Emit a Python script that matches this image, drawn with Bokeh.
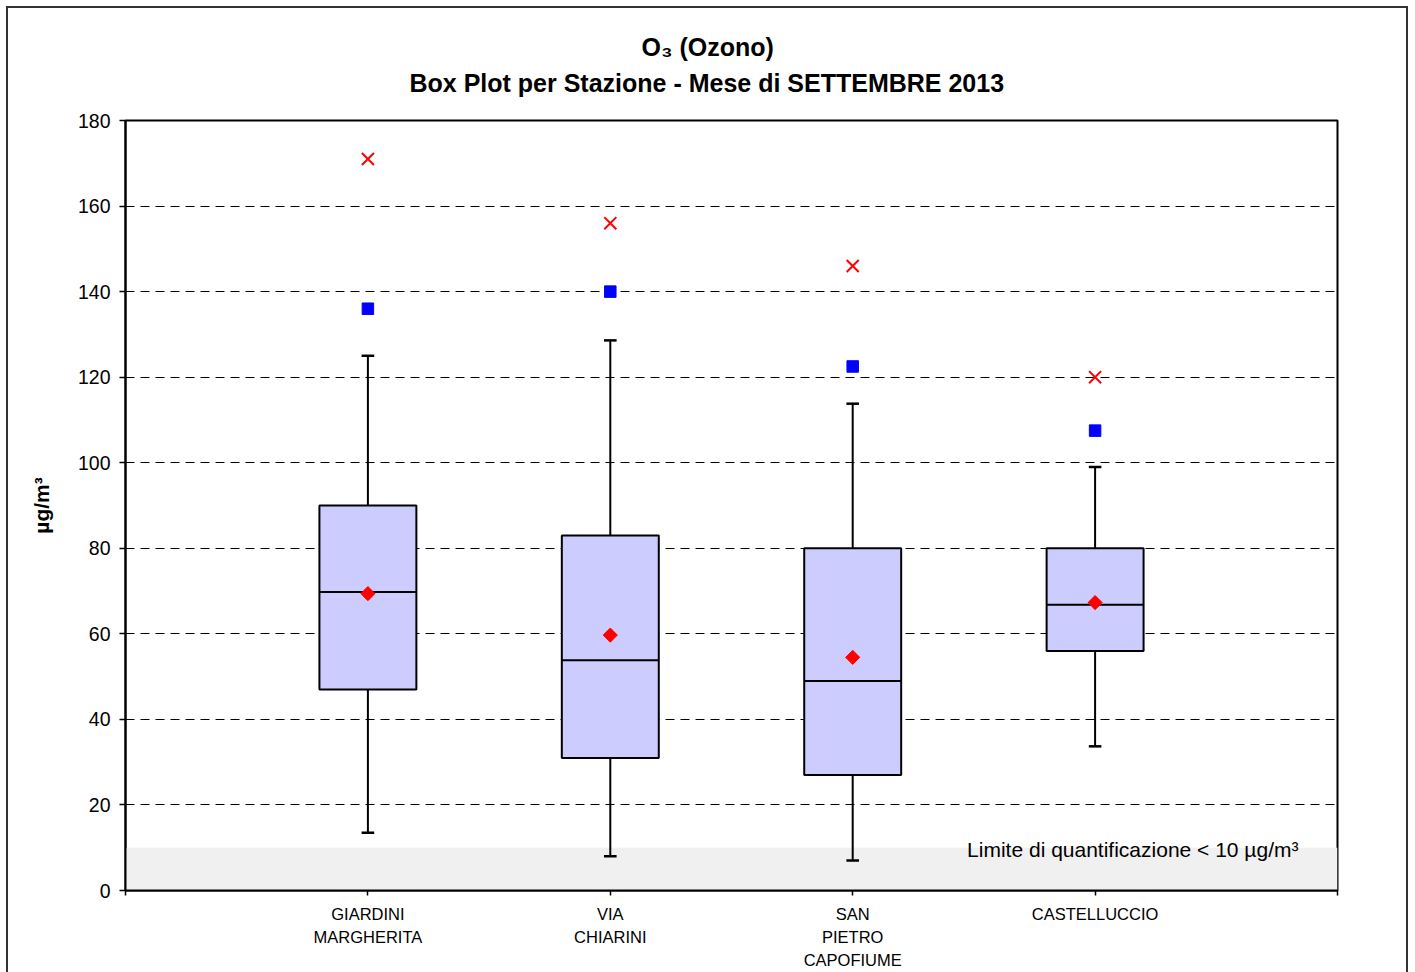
from bokeh.plotting import figure
from bokeh.models import Range1d, FixedTicker, Label, ColumnDataSource, Title
from bokeh.embed import file_html
from bokeh.resources import INLINE

# ---------------- data ----------------
stations = ["GIARDINI\nMARGHERITA", "VIA\nCHIARINI", "SAN\nPIETRO\nCAPOFIUME", "CASTELLUCCIO"]
positions = [1, 2, 3, 4]
whisker_low = [13.5, 8.0, 7.0, 33.7]
q1 = [47.0, 31.0, 27.0, 56.0]
median = [69.8, 53.8, 49.0, 66.8]
q3 = [90.0, 83.0, 80.0, 80.0]
whisker_high = [125.0, 128.6, 113.8, 99.0]
mean = [69.4, 59.7, 54.5, 67.3]
percentile = [136.0, 140.0, 122.5, 107.5]
maximum = [171.0, 156.0, 146.0, 120.0]
loq = 10
y_ticks = [0, 20, 40, 60, 80, 100, 120, 140, 160, 180]
x_ticks = [0, 1, 2, 3, 4, 5]

FONT = "Liberation Sans"
BOX_W = 0.4
CAP = 0.026

src = ColumnDataSource(dict(
    x=positions, lo=whisker_low, q1=q1, med=median, q3=q3, hi=whisker_high,
    mean=mean, pct=percentile, mx=maximum,
    xl=[v - BOX_W / 2 for v in positions], xr=[v + BOX_W / 2 for v in positions],
    cl=[v - CAP for v in positions], cr=[v + CAP for v in positions],
))

p = figure(width=1398, height=964, x_range=Range1d(0, 5), y_range=Range1d(0, 180),
           output_backend="svg", toolbar_location=None,
           min_border_left=117, min_border_right=69, min_border_top=112, min_border_bottom=82)
p.styles = {"margin-left": "8px", "margin-top": "8px", "outline": "2px solid #333"}
p.background_fill_color = "white"
p.border_fill_color = "white"
p.outline_line_color = "black"
p.outline_line_width = 2

# titles (added inner-first)
p.add_layout(Title(text="Box Plot per Stazione - Mese di SETTEMBRE 2013", align="left",
                   offset=284, text_font=FONT, text_font_size="25px", text_font_style="bold",
                   text_color="black", standoff=47), "above")
p.add_layout(Title(text="O₃ (Ozono)", align="left", offset=516, text_font=FONT,
                   text_font_size="25px", text_font_style="bold", text_color="black",
                   standoff=-35), "above")

# band below quantification limit
p.quad(left=[0], right=[5], bottom=[0], top=[loq], fill_color="#f0f0f0", line_color=None, level="underlay")

# grid
p.xgrid.visible = False
p.ygrid.ticker = FixedTicker(ticks=y_ticks[1:-1])
p.ygrid.grid_line_color = "black"
p.ygrid.grid_line_width = 1
p.ygrid.grid_line_dash = "9 6"

# y axis
p.yaxis.ticker = FixedTicker(ticks=y_ticks)
p.yaxis.major_tick_out = 6
p.yaxis.major_tick_in = 0
p.yaxis.minor_tick_out = 0
p.yaxis.minor_tick_in = 0
p.yaxis.axis_line_width = 2
p.yaxis.axis_line_color = "black"
p.yaxis.major_tick_line_color = "black"
p.yaxis.major_tick_line_width = 1.5
p.yaxis.major_label_text_font = FONT
p.yaxis.major_label_text_font_size = "19.5px"
p.yaxis.major_label_text_color = "black"
p.yaxis.major_label_standoff = 9
p.yaxis.axis_label = "µg/m³"
p.yaxis.axis_label_text_font = FONT
p.yaxis.axis_label_text_font_size = "21px"
p.yaxis.axis_label_text_font_style = "bold"
p.yaxis.axis_label_text_color = "black"
p.yaxis.axis_label_standoff = 22

# x axis with station names
p.xaxis.ticker = FixedTicker(ticks=x_ticks)
overrides = {t: "" for t in x_ticks}
for xpos, name in zip(positions, stations):
    overrides[xpos] = name
p.xaxis.major_label_overrides = overrides
p.xaxis.major_tick_out = 5
p.xaxis.major_tick_in = 0
p.xaxis.minor_tick_out = 0
p.xaxis.minor_tick_in = 0
p.xaxis.axis_line_width = 2
p.xaxis.axis_line_color = "black"
p.xaxis.major_tick_line_color = "black"
p.xaxis.major_tick_line_width = 1.5
p.xaxis.major_label_text_font = FONT
p.xaxis.major_label_text_font_size = "16.5px"
p.xaxis.major_label_text_color = "black"
p.xaxis.major_label_text_line_height = 1.28
p.xaxis.major_label_standoff = 9

# whiskers
p.segment(x0="x", x1="x", y0="q3", y1="hi", source=src, line_color="black", line_width=2)
p.segment(x0="x", x1="x", y0="lo", y1="q1", source=src, line_color="black", line_width=2)
p.segment(x0="cl", x1="cr", y0="hi", y1="hi", source=src, line_color="black", line_width=2.5)
p.segment(x0="cl", x1="cr", y0="lo", y1="lo", source=src, line_color="black", line_width=2.5)

# boxes
p.quad(left="xl", right="xr", bottom="q1", top="q3", source=src,
       fill_color="#ccccff", line_color="black", line_width=2)
p.segment(x0="xl", x1="xr", y0="med", y1="med", source=src, line_color="black", line_width=2)

# markers
p.scatter(x="x", y="mean", source=src, marker="square", angle=0.785398, size=10,
          fill_color="red", line_color="red")
p.scatter(x="x", y="pct", source=src, marker="square", size=11.5,
          fill_color="blue", line_color="blue")
p.scatter(x="x", y="mx", source=src, marker="x", size=17, line_color="red", line_width=2)

# quantification limit note
p.add_layout(Label(x=4.839, y=9.5, text="Limite di quantificazione < 10 µg/m³",
                   text_align="right", text_baseline="alphabetic", text_font=FONT,
                   text_font_size="21px", text_color="black"))

open("out.html", "w").write(file_html(p, INLINE))
